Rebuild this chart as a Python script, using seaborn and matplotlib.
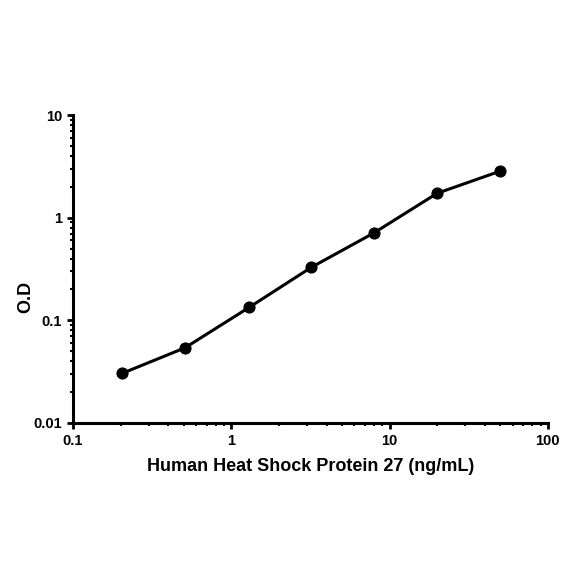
import matplotlib
matplotlib.use("Agg")
import matplotlib.pyplot as plt
import seaborn as sns
import pandas as pd
from matplotlib.ticker import LogLocator, FixedLocator, FixedFormatter

# ===== DATA =====
concentration = [0.205, 0.51, 1.3, 3.2, 8.0, 20.0, 50.0]
od_values = [0.0305, 0.054, 0.134, 0.328, 0.713, 1.73, 2.84]
x_ticks = [0.1, 1, 10, 100]
x_tick_labels = ["0.1", "1", "10", "100"]
y_ticks = [0.01, 0.1, 1, 10]
y_tick_labels = ["0.01", "0.1", "1", "10"]

df = pd.DataFrame({"conc": concentration, "od": od_values})

sns.set_style("ticks")
plt.rcParams["font.family"] = ["Liberation Sans", "DejaVu Sans"]
plt.rcParams["text.color"] = "black"
plt.rcParams["axes.labelcolor"] = "black"

fig = plt.figure(figsize=(5.84, 5.84), dpi=100)
ax = fig.add_axes([0.125, 0.2757, 0.813, 0.5273])

sns.lineplot(data=df, x="conc", y="od", ax=ax, color="black", linewidth=2.2,
             marker="o", markersize=8, markeredgecolor="black", markerfacecolor="black")

ax.set_xscale("log")
ax.set_yscale("log")
ax.set_xlim(0.1, 100)
ax.set_ylim(0.01, 10)

ax.xaxis.set_major_locator(FixedLocator(x_ticks))
ax.xaxis.set_major_formatter(FixedFormatter(x_tick_labels))
ax.yaxis.set_major_locator(FixedLocator(y_ticks))
ax.yaxis.set_major_formatter(FixedFormatter(y_tick_labels))
ax.xaxis.set_minor_locator(LogLocator(base=10, subs=range(2, 10)))
ax.yaxis.set_minor_locator(LogLocator(base=10, subs=range(2, 10)))
ax.xaxis.set_minor_formatter(FixedFormatter([]))
ax.yaxis.set_minor_formatter(FixedFormatter([]))

ax.tick_params(which="both", bottom=True, left=True, top=False, right=False)
ax.tick_params(which="major", direction="out", length=4, width=2, labelsize=10.5,
               colors="black", pad=4)
ax.tick_params(which="minor", direction="out", length=2.5, width=1.5, colors="black")
for lbl in ax.get_xticklabels() + ax.get_yticklabels():
    lbl.set_fontweight("bold")

for side in ["top", "right"]:
    ax.spines[side].set_visible(False)
for side in ["left", "bottom"]:
    ax.spines[side].set_linewidth(2.2)
    ax.spines[side].set_color("black")

ax.set_xlabel("Human Heat Shock Protein 27 (ng/mL)", fontsize=13, fontweight="bold",
              labelpad=7, color="black")
ax.set_ylabel("O.D", fontsize=13, fontweight="bold", color="black")
ax.yaxis.set_label_coords(-0.082, 0.41)

fig.savefig("out.png", dpi=100)
